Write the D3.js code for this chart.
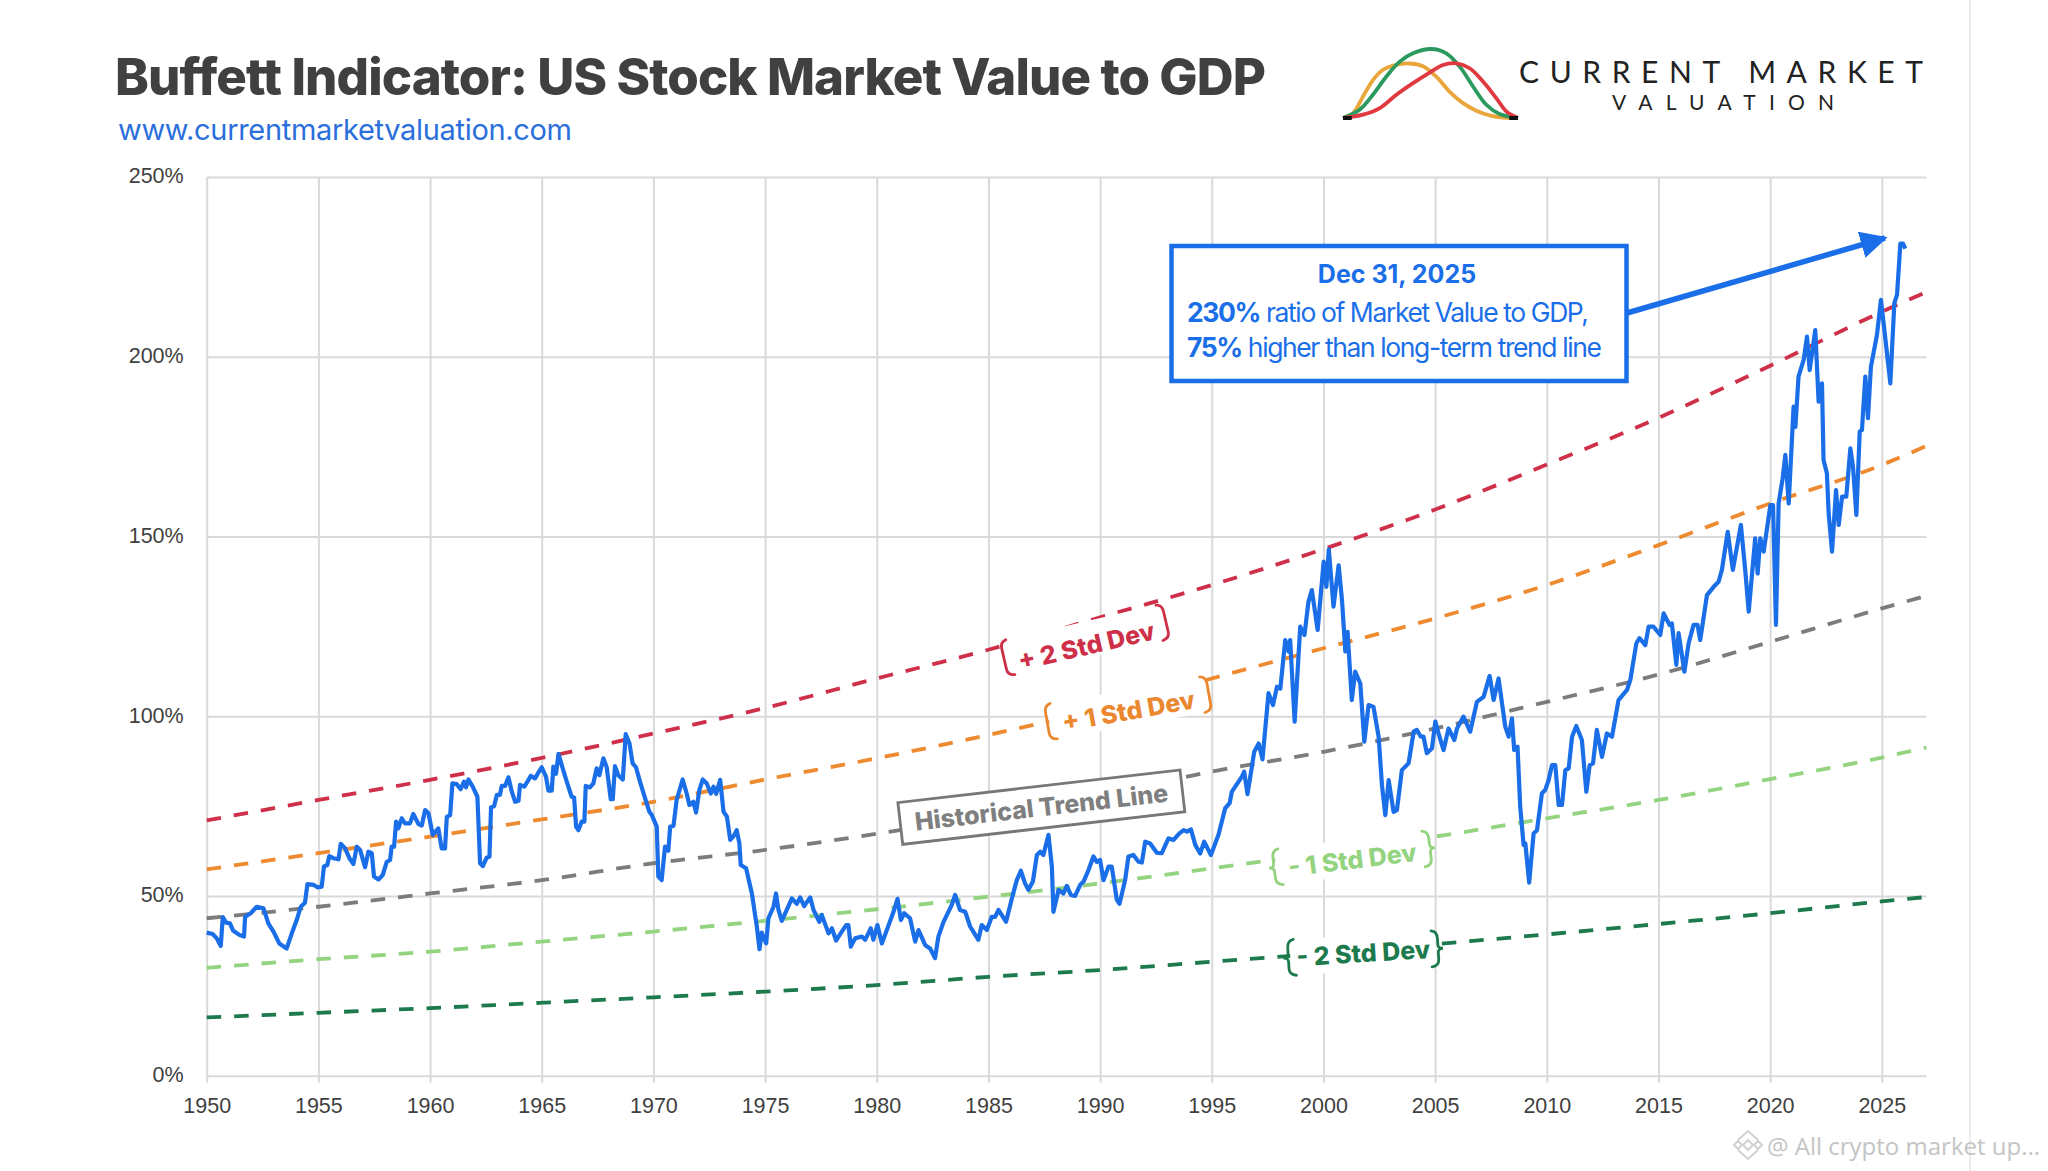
<!DOCTYPE html>
<html>
<head>
<meta charset="utf-8">
<title>Buffett Indicator</title>
<script src="https://cdn.jsdelivr.net/npm/d3@7"></script>
<style>
  body { margin: 0; background: #fff; }
  text { font-family: "Liberation Sans", sans-serif; }
  .axis text { font-size: 21.5px; fill: #404040; }
  .axis path { display: none; }
  .axis line { stroke: #d9d9d9; stroke-width: 2px; }
</style>
</head>
<body>
<div class="graph"></div>
<script>
var width = 2048;
var height = 1171;

var xTicks = [1950, 1955, 1960, 1965, 1970, 1975, 1980, 1985, 1990, 1995, 2000, 2005, 2010, 2015, 2020, 2025];
var yTicks = [0, 50, 100, 150, 200, 250];

// ratio of market value to GDP
var ratioYears = [
  1950.00, 1950.27, 1950.45, 1950.63, 1950.72, 1950.87, 1951.04, 1951.19, 1951.49, 1951.67, 1951.72, 1951.97, 1952.24, 1952.54, 1952.76, 1952.99, 1953.25, 1953.58, 1953.81, 1954.03,
  1954.21, 1954.40, 1954.51, 1954.78, 1954.96, 1955.15, 1955.25, 1955.40, 1955.49, 1955.67, 1955.90, 1956.00, 1956.19, 1956.39, 1956.57, 1956.72, 1956.87, 1957.09, 1957.24, 1957.39,
  1957.49, 1957.69, 1957.88, 1958.06, 1958.21, 1958.28, 1958.39, 1958.48, 1958.58, 1958.73, 1958.88, 1959.10, 1959.25, 1959.48, 1959.63, 1959.78, 1959.93, 1960.12, 1960.37, 1960.52,
  1960.67, 1960.75, 1960.90, 1961.00, 1961.19, 1961.37, 1961.52, 1961.61, 1961.72, 1961.91, 1962.12, 1962.24, 1962.36, 1962.54, 1962.66, 1962.73, 1962.87, 1962.99, 1963.13, 1963.21,
  1963.36, 1963.51, 1963.66, 1963.81, 1963.96, 1964.03, 1964.22, 1964.36, 1964.51, 1964.70, 1964.85, 1965.00, 1965.19, 1965.30, 1965.45, 1965.52, 1965.64, 1965.75, 1965.94, 1966.12,
  1966.34, 1966.45, 1966.54, 1966.64, 1966.79, 1966.91, 1966.97, 1967.16, 1967.31, 1967.46, 1967.58, 1967.76, 1967.91, 1968.09, 1968.18, 1968.28, 1968.43, 1968.63, 1968.76, 1968.93,
  1969.07, 1969.22, 1969.40, 1969.58, 1969.82, 1969.93, 1970.15, 1970.22, 1970.37, 1970.52, 1970.67, 1970.75, 1970.90, 1971.04, 1971.31, 1971.49, 1971.61, 1971.79, 1971.91, 1972.06,
  1972.21, 1972.39, 1972.57, 1972.69, 1972.81, 1972.99, 1973.14, 1973.29, 1973.44, 1973.58, 1973.73, 1973.85, 1973.91, 1974.15, 1974.41, 1974.63, 1974.75, 1974.85, 1975.05, 1975.15,
  1975.38, 1975.49, 1975.60, 1975.75, 1975.97, 1976.20, 1976.42, 1976.57, 1976.75, 1977.02, 1977.17, 1977.43, 1977.54, 1977.84, 1977.99, 1978.18, 1978.36, 1978.63, 1978.73, 1978.84,
  1979.03, 1979.33, 1979.48, 1979.73, 1979.85, 1980.03, 1980.23, 1980.45, 1980.75, 1980.93, 1981.08, 1981.23, 1981.49, 1981.72, 1981.87, 1982.17, 1982.39, 1982.61, 1982.76, 1982.99,
  1983.36, 1983.51, 1983.73, 1983.96, 1984.18, 1984.55, 1984.70, 1984.93, 1985.15, 1985.30, 1985.45, 1985.79, 1986.05, 1986.27, 1986.45, 1986.64, 1986.79, 1986.99, 1987.17, 1987.32,
  1987.46, 1987.69, 1987.84, 1987.91, 1988.14, 1988.36, 1988.51, 1988.69, 1988.88, 1989.11, 1989.26, 1989.48, 1989.70, 1989.85, 1990.00, 1990.15, 1990.38, 1990.52, 1990.75, 1990.87,
  1991.12, 1991.27, 1991.49, 1991.72, 1991.87, 1992.02, 1992.24, 1992.54, 1992.76, 1993.06, 1993.29, 1993.55, 1993.74, 1993.89, 1994.07, 1994.26, 1994.48, 1994.66, 1994.96, 1995.30,
  1995.60, 1995.80, 1995.90, 1996.35, 1996.45, 1996.60, 1996.90, 1997.10, 1997.27, 1997.54, 1997.74, 1997.92, 1998.07, 1998.29, 1998.44, 1998.51, 1998.71, 1998.96, 1999.15, 1999.33,
  1999.48, 1999.74, 2000.01, 2000.13, 2000.24, 2000.45, 2000.68, 2000.83, 2000.98, 2001.08, 2001.27, 2001.42, 2001.65, 2001.83, 2002.02, 2002.24, 2002.47, 2002.62, 2002.77, 2002.92,
  2003.14, 2003.29, 2003.51, 2003.81, 2004.04, 2004.18, 2004.36, 2004.48, 2004.63, 2004.86, 2005.01, 2005.15, 2005.38, 2005.60, 2005.86, 2005.98, 2006.27, 2006.57, 2006.87, 2007.17,
  2007.44, 2007.62, 2007.84, 2008.14, 2008.29, 2008.44, 2008.54, 2008.69, 2008.81, 2008.96, 2009.04, 2009.21, 2009.41, 2009.56, 2009.78, 2009.93, 2010.08, 2010.23, 2010.38, 2010.53,
  2010.68, 2010.83, 2010.98, 2011.13, 2011.32, 2011.57, 2011.77, 2011.92, 2012.07, 2012.24, 2012.47, 2012.69, 2012.92, 2013.21, 2013.59, 2013.74, 2014.01, 2014.15, 2014.41, 2014.56,
  2014.78, 2015.08, 2015.23, 2015.50, 2015.60, 2015.80, 2015.90, 2016.16, 2016.35, 2016.57, 2016.75, 2016.87, 2017.17, 2017.47, 2017.69, 2017.84, 2018.10, 2018.33, 2018.69, 2018.89,
  2019.04, 2019.33, 2019.44, 2019.56, 2019.71, 2020.01, 2020.13, 2020.26, 2020.38, 2020.56, 2020.68, 2020.83, 2021.05, 2021.13, 2021.27, 2021.50, 2021.65, 2021.77, 2022.02, 2022.17,
  2022.32, 2022.39, 2022.54, 2022.62, 2022.77, 2022.95, 2023.07, 2023.22, 2023.41, 2023.59, 2023.71, 2023.86, 2024.01, 2024.11, 2024.26, 2024.38, 2024.51, 2024.78, 2024.96, 2025.08,
  2025.38, 2025.56, 2025.68, 2025.83, 2025.95, 2026.05
];
var ratioValues = [
  39.8, 39.4, 38.2, 36.1, 44.1, 42.6, 42.4, 40.3, 39.1, 38.7, 44.2, 45.2, 47.0, 46.6, 42.4, 40.1, 36.8, 35.4, 39.6, 43.3,
  47.0, 48.1, 53.3, 53.1, 52.4, 52.6, 58.2, 58.6, 61.1, 60.5, 60.2, 64.5, 63.3, 60.5, 58.9, 63.7, 62.8, 58.0, 62.3, 61.9,
  55.4, 54.6, 55.8, 59.5, 60.0, 63.7, 63.7, 70.7, 68.8, 71.6, 70.2, 70.2, 72.8, 70.0, 69.6, 73.9, 73.0, 67.0, 68.8, 63.2,
  63.2, 72.0, 72.5, 81.3, 81.1, 79.7, 81.8, 80.2, 82.4, 80.4, 77.6, 59.1, 58.3, 60.7, 60.9, 74.6, 75.0, 78.1, 78.1, 80.6,
  80.6, 83.0, 79.0, 76.2, 76.5, 80.9, 80.4, 81.8, 83.4, 82.7, 84.3, 85.8, 83.2, 79.3, 79.3, 86.0, 84.0, 89.5, 85.5, 81.8,
  77.6, 77.4, 69.3, 68.3, 70.7, 70.7, 80.6, 80.2, 81.3, 85.5, 83.6, 88.3, 85.8, 76.9, 76.9, 86.1, 83.6, 82.4, 95.0, 92.4,
  86.9, 85.8, 81.8, 78.1, 73.4, 72.5, 69.3, 55.4, 54.4, 63.7, 62.6, 69.3, 69.5, 76.7, 82.4, 78.5, 75.3, 76.2, 73.2, 79.5,
  82.4, 81.3, 78.5, 80.4, 78.4, 82.3, 73.4, 72.1, 65.6, 66.5, 68.3, 64.6, 58.6, 57.7, 50.7, 41.5, 35.2, 39.8, 36.8, 43.8,
  47.0, 50.7, 46.1, 43.1, 46.1, 49.3, 47.8, 49.6, 47.2, 49.6, 46.1, 42.8, 44.7, 39.6, 41.0, 37.6, 39.4, 41.9, 41.9, 35.9,
  38.2, 38.7, 37.8, 41.0, 37.8, 41.9, 36.8, 40.5, 45.6, 49.2, 43.3, 45.2, 43.8, 37.3, 40.5, 36.3, 35.4, 32.7, 38.7, 42.8,
  47.5, 50.3, 46.1, 45.6, 41.5, 37.8, 41.9, 40.5, 44.2, 44.2, 46.1, 42.8, 49.3, 54.4, 57.0, 53.5, 51.7, 54.0, 61.4, 62.3,
  61.4, 67.0, 58.2, 45.6, 51.7, 50.7, 52.8, 50.3, 50.0, 53.1, 54.0, 57.2, 61.0, 59.5, 60.0, 54.4, 58.2, 58.2, 48.9, 47.8,
  54.4, 61.0, 61.4, 59.5, 59.3, 65.1, 64.6, 62.0, 61.9, 66.0, 65.6, 67.4, 68.3, 67.9, 68.5, 64.2, 61.8, 65.1, 61.4, 67.0,
  74.4, 75.8, 79.0, 83.2, 84.6, 78.3, 90.1, 92.4, 88.0, 106.4, 103.1, 108.2, 107.7, 121.2, 118.0, 121.2, 98.5, 124.9, 122.6, 131.9,
  135.1, 124.0, 143.0, 136.0, 146.4, 130.5, 142.0, 132.3, 118.0, 123.5, 104.5, 112.4, 109.1, 92.9, 103.1, 102.6, 94.3, 80.8, 72.5, 82.2,
  73.4, 73.9, 85.0, 86.9, 95.7, 96.2, 94.3, 94.3, 89.7, 91.1, 98.5, 95.2, 90.6, 96.6, 93.4, 96.6, 99.9, 95.7, 104.0, 105.4,
  111.2, 104.5, 110.5, 97.1, 94.3, 99.4, 90.6, 91.5, 74.8, 64.2, 64.6, 53.7, 67.4, 68.3, 78.5, 79.5, 82.2, 86.4, 86.4, 75.3,
  75.3, 85.0, 85.5, 94.3, 97.3, 93.4, 79.0, 86.4, 86.9, 96.2, 88.7, 95.2, 94.3, 104.5, 107.3, 110.1, 120.3, 121.7, 119.8, 124.9,
  124.9, 122.6, 128.6, 125.4, 125.8, 114.3, 123.1, 112.4, 120.3, 125.4, 125.4, 121.2, 133.7, 136.0, 137.4, 140.7, 151.3, 140.7, 153.2, 140.2,
  129.1, 149.5, 139.7, 149.5, 145.8, 158.7, 158.7, 125.4, 159.2, 166.2, 172.7, 159.2, 186.1, 180.5, 194.5, 199.1, 205.6, 196.3, 207.4, 187.5,
  192.6, 171.3, 167.6, 156.4, 145.8, 162.9, 153.2, 161.1, 161.1, 174.5, 169.4, 156.0, 179.2, 179.6, 194.5, 182.9, 197.2, 206.0, 215.8, 209.3,
  192.6, 214.9, 217.2, 231.5, 231.5, 230.1
];

// trend and standard deviation bands, every five years
var bandYears = [1950, 1955, 1960, 1965, 1970, 1975, 1980, 1985, 1990, 1995, 2000, 2005, 2010, 2015, 2020, 2025, 2027];
var plus2 = [71.0, 76.7, 82.3, 88.4, 95.2, 102.3, 110.5, 118.5, 127.5, 136.5, 146.5, 157.5, 170.0, 183.0, 197.5, 212.5, 218.0];
var plus1 = [57.4, 61.9, 66.5, 71.3, 76.2, 82.4, 88.3, 94.8, 102.0, 110.5, 118.9, 127.2, 136.5, 147.6, 159.2, 169.9, 175.2];
var trend = [43.8, 47.0, 50.7, 54.4, 59.1, 62.8, 67.3, 72.5, 78.0, 84.6, 90.1, 96.6, 104.0, 111.6, 120.7, 130.0, 133.5];
var minus1 = [30.0, 32.4, 34.5, 37.3, 40.1, 43.1, 46.3, 49.8, 53.5, 57.7, 62.0, 66.5, 71.6, 76.7, 82.5, 88.5, 91.3];
var minus2 = [16.2, 17.5, 18.8, 20.3, 21.8, 23.4, 25.2, 27.5, 29.4, 31.7, 34.0, 36.6, 39.3, 42.2, 45.2, 48.5, 49.7];

// logo bell curves
var orangeT = [0, .057, .114, .171, .229, .286, .381, .457, .533, .61, .686, .762, .838, .914, 1];
var orangeV = [0, .07, .31, .55, .7, .76, .79, .75, .6, .38, .216, .106, .038, .005, 0];
var greenT = [0, .095, .171, .248, .324, .4, .505, .59, .667, .743, .819, .895, 1];
var greenV = [0, .12, .337, .601, .817, .938, 1, .938, .745, .457, .192, .058, 0];
var redT = [0, .114, .21, .305, .4, .495, .571, .648, .724, .8, .876, .933, 1];
var redV = [0, .048, .144, .337, .505, .659, .769, .793, .721, .529, .288, .096, 0];

var svg = d3.select(".graph").append("svg")
    .attr("width", width)
    .attr("height", height)
    .style("display", "block");

var x = d3.scaleLinear().domain([1950, 2027]).range([206.7, 1926.5]);
var y = d3.scaleLinear().domain([0, 250]).range([1075.7, 177]);

// Gridlines
var xAxis = d3.axisBottom(x)
    .tickValues(xTicks)
    .tickFormat(d3.format("d"))
    .tickSize(-(y(0) - y(250)))
    .tickPadding(18);

var xAxisGroup = svg.append("g")
    .attr("class", "axis")
    .attr("transform", "translate(0," + y(0) + ")")
    .call(xAxis);

// short tick below the axis line
xAxisGroup.selectAll(".tick line").attr("y2", 7).attr("y1", -(y(0) - y(250)));
xAxisGroup.selectAll(".tick text").attr("y", 22);

var yAxis = d3.axisLeft(y)
    .tickValues(yTicks)
    .tickFormat(function (d) { return d + "%"; })
    .tickSize(-(x(2027) - x(1950)))
    .tickPadding(23);

var yAxisGroup = svg.append("g")
    .attr("class", "axis")
    .attr("transform", "translate(" + x(1950) + ",0)")
    .call(yAxis);
yAxisGroup.selectAll(".tick text").attr("dy", "0.27em");

// Dashed bands
var bandLine = d3.line()
    .x(function (d) { return x(d[0]); })
    .y(function (d) { return y(d[1]); })
    .curve(d3.curveMonotoneX);

function drawBand(values, color) {
    var pts = bandYears.map(function (yr, i) { return [yr, values[i]]; });
    svg.append("path")
        .data([pts])
        .attr("fill", "none")
        .attr("stroke", color)
        .attr("stroke-width", 3.8)
        .style("stroke-dasharray", "14.5, 13")
        .attr("d", bandLine);
}

drawBand(plus2, "#cf3049");
drawBand(plus1, "#ee8a2f");
drawBand(trend, "#7c7c7c");
drawBand(minus1, "#94d480");
drawBand(minus2, "#1d7a4c");

// Rotated band labels, each with a white patch that breaks the dashes
function bracket(h, dir, notch) {
    var mid = notch ? (" L" + (-dir * 2) + ",-4 Q" + (-dir * 2) + ",0 " + (-dir * 7) + ",0 Q" + (-dir * 2) + ",0 " + (-dir * 2) + ",4") : "";
    return "M" + (dir * 4) + "," + (-h) + " Q" + (-dir * 2) + "," + (-h + 1) + " " + (-dir * 2) + "," + (-h + 8)
        + mid
        + " L" + (-dir * 2) + "," + (h - 7) + " Q" + (-dir * 2) + "," + (h - 1) + " " + (dir * 5) + "," + h;
}

function bandLabel(label, yr, val, angle, halfWidth, textShift, color, notch) {
    var g = svg.append("g")
        .attr("transform", "translate(" + x(yr) + "," + y(val) + ") rotate(" + angle + ")");
    g.append("rect")
        .attr("x", -halfWidth).attr("y", -18)
        .attr("width", 2 * halfWidth).attr("height", 36)
        .attr("fill", "#fff");
    [-1, 1].forEach(function (side) {
        g.append("path")
            .attr("transform", "translate(" + (side * halfWidth) + ",0)")
            .attr("d", bracket(18, -side, notch))
            .attr("fill", "none")
            .attr("stroke", color)
            .attr("stroke-width", 2.8)
            .attr("stroke-linecap", "round");
    });
    g.append("text")
        .attr("text-anchor", "middle")
        .attr("y", textShift)
        .attr("dy", "0.36em")
        .style("font-family", "Inter")
        .style("font-weight", 800)
        .style("font-size", "25px")
        .attr("fill", color)
        .text(label);
}

bandLabel("+ 2 Std Dev", 1989.32, 121.2, -13, 81, 6, "#cf3049", false);
bandLabel("+ 1 Std Dev", 1991.25, 102.3, -10.1, 80, 3, "#ea872f", false);
bandLabel("- 1 Std Dev", 2001.28, 60.6, -7.1, 76.5, 2, "#94d480", true);
bandLabel("- 2 Std Dev", 2001.78, 34.1, -3.5, 73, 0, "#1d7a4c", true);

// Historical trend line tag
var trendTag = svg.append("g")
    .attr("transform", "translate(" + x(1987.37) + "," + y(74.7) + ") rotate(-6.6)");
trendTag.append("rect")
    .attr("x", -142).attr("y", -21)
    .attr("width", 284).attr("height", 42)
    .attr("fill", "#fff")
    .attr("stroke", "#777")
    .attr("stroke-width", 2.8);
trendTag.append("text")
    .attr("text-anchor", "middle")
    .attr("dy", "0.36em")
    .style("font-family", "Inter")
    .style("font-weight", 800)
    .style("font-size", "25px")
    .attr("fill", "#7f7f7f")
    .text("Historical Trend Line");

// Main series
var blue = "#1a6ee8";
var ratioLine = d3.line()
    .x(function (d, i) { return x(ratioYears[i]); })
    .y(function (d) { return y(d); });

svg.append("path")
    .data([ratioValues])
    .attr("fill", "none")
    .attr("stroke", blue)
    .attr("stroke-width", 4.2)
    .attr("stroke-linejoin", "round")
    .attr("d", ratioLine);

// Callout and arrow
svg.append("defs").append("marker")
    .attr("id", "head")
    .attr("viewBox", "0 0 10 10")
    .attr("refX", 9).attr("refY", 5)
    .attr("markerWidth", 27).attr("markerHeight", 27)
    .attr("markerUnits", "userSpaceOnUse")
    .attr("orient", "auto")
    .append("path")
    .attr("d", "M0,0 L10,5 L0,10 Z")
    .attr("fill", blue);

svg.append("line")
    .attr("x1", 1627).attr("y1", 313)
    .attr("x2", 1885).attr("y2", 238)
    .attr("stroke", blue)
    .attr("stroke-width", 5.5)
    .attr("marker-end", "url(#head)");

svg.append("rect")
    .attr("x", 1171.5).attr("y", 246)
    .attr("width", 455).attr("height", 135)
    .attr("fill", "#fff")
    .attr("stroke", blue)
    .attr("stroke-width", 4.5);

svg.append("text")
    .attr("x", 1397).attr("y", 283)
    .attr("text-anchor", "middle")
    .style("font-family", "Inter")
    .style("font-weight", 700)
    .style("font-size", "25px")
    .attr("fill", blue)
    .text("Dec 31, 2025");

function calloutLine(baseline, boldPart, rest, len) {
    var t = svg.append("text")
        .attr("x", 1187).attr("y", baseline)
        .attr("textLength", len)
        .style("font-family", "Inter")
        .style("font-size", "26.5px")
        .attr("fill", blue);
    t.append("tspan").style("font-weight", 700).text(boldPart);
    t.append("tspan").text(rest);
}
calloutLine(322, "230%", " ratio of Market Value to GDP,", 402);
calloutLine(357, "75%", " higher than long-term trend line", 415);

// Title block
svg.append("text")
    .attr("x", 115).attr("y", 95)
    .attr("textLength", 1151)
    .style("font-family", "Inter")
    .style("font-weight", 800)
    .style("font-size", "51px")
    .attr("fill", "#404040")
    .text("Buffett Indicator: US Stock Market Value to GDP");

svg.append("text")
    .attr("x", 118).attr("y", 140)
    .attr("textLength", 454)
    .style("font-family", "Inter")
    .style("font-size", "29px")
    .attr("fill", "#2a6fdb")
    .text("www.currentmarketvaluation.com");

// Logo, three bell curves
var logoX = d3.scaleLinear().domain([0, 1]).range([1343, 1518]);
var logoY = d3.scaleLinear().domain([0, 1]).range([118, 49]);

function logoCurve(ts, vs, color) {
    var line = d3.line()
        .x(function (d, i) { return logoX(ts[i]); })
        .y(function (d) { return logoY(d); })
        .curve(d3.curveCatmullRom);
    svg.append("path")
        .data([vs])
        .attr("fill", "none")
        .attr("stroke", color)
        .attr("stroke-width", 3.8)
        .attr("d", line);
}
logoCurve(orangeT, orangeV, "#eaa63a");
logoCurve(greenT, greenV, "#2a9a5e");
logoCurve(redT, redV, "#e0393f");

[[0, 0.05], [0.95, 1]].forEach(function (end) {
    svg.append("line")
        .attr("x1", logoX(end[0])).attr("x2", logoX(end[1]))
        .attr("y1", logoY(0)).attr("y2", logoY(0))
        .attr("stroke", "#111")
        .attr("stroke-width", 4);
});

svg.append("text")
    .attr("x", 1519).attr("y", 83)
    .attr("textLength", 404)
    .style("font-family", "Lato")
    .style("font-weight", 400)
    .style("font-size", "30px")
    .attr("fill", "#222")
    .text("CURRENT MARKET");

svg.append("text")
    .attr("x", 1612).attr("y", 110)
    .attr("textLength", 222)
    .style("font-family", "Lato")
    .style("font-weight", 400)
    .style("font-size", "21px")
    .attr("fill", "#222")
    .text("VALUATION");

// Page edge and watermark
svg.append("line")
    .attr("x1", 1970).attr("x2", 1970)
    .attr("y1", 0).attr("y2", height)
    .attr("stroke", "#e6e6e6")
    .attr("stroke-width", 1.5);

svg.append("path")
    .attr("d", "M1738,1140 L1748,1131 L1758,1140 M1738,1150 L1748,1159 L1758,1150 M1748,1140 L1753,1145 L1748,1150 L1743,1145 Z M1734,1145 L1738,1141 L1742,1145 L1738,1149 Z M1754,1145 L1758,1141 L1762,1145 L1758,1149 Z")
    .attr("fill", "none")
    .attr("stroke", "#d2d2d2")
    .attr("stroke-width", 2);

svg.append("text")
    .attr("x", 1767).attr("y", 1155)
    .style("font-family", "Open Sans")
    .style("font-size", "24px")
    .attr("fill", "#c4c4c4")
    .text("@ All crypto market up...");
</script>
</body>
</html>
